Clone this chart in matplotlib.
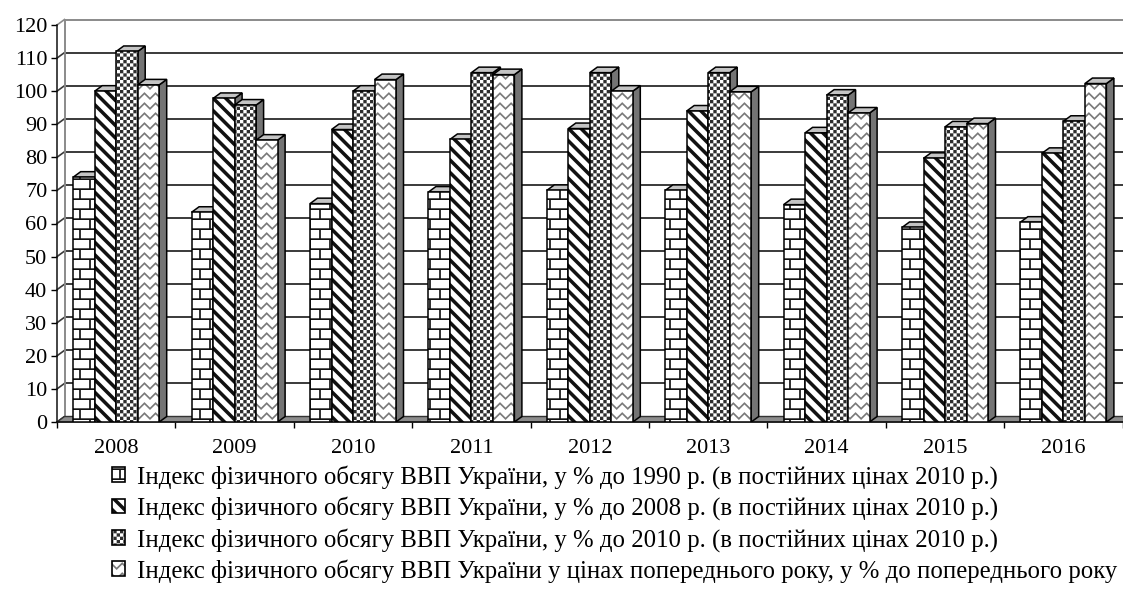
import numpy as np
import matplotlib
matplotlib.use("Agg")
import matplotlib.pyplot as plt
import matplotlib.hatch as mhatch
from matplotlib.path import Path
from matplotlib.patches import Polygon, Patch
from matplotlib.legend_handler import HandlerTuple

# ---------------- data ----------------
years = ['2008', '2009', '2010', '2011', '2012', '2013', '2014', '2015', '2016']
idx_1990 = [74.0, 63.4, 66.0, 69.5, 70.0, 70.0, 65.7, 58.8, 60.4]
idx_2008 = [100.0, 97.8, 88.4, 85.4, 88.7, 94.0, 87.4, 79.7, 81.2]
idx_2010 = [112.0, 95.8, 100.0, 105.6, 105.6, 105.6, 98.8, 89.2, 90.9]
idx_prev = [101.9, 85.2, 103.5, 105.0, 100.0, 99.8, 93.4, 90.2, 102.3]
series_labels = [
    'Індекс фізичного обсягу ВВП України, у % до 1990 р. (в постійних цінах 2010 р.)',
    'Індекс фізичного обсягу ВВП України, у % до 2008 р. (в постійних цінах 2010 р.)',
    'Індекс фізичного обсягу ВВП України, у % до 2010 р. (в постійних цінах 2010 р.)',
    'Індекс фізичного обсягу ВВП України у цінах попереднього року, у % до попереднього року',
]
y_ticks = list(range(0, 121, 10))

# ---------------- custom fill patterns ----------------
def _brick_polys():
    polys = []
    rows, cols, t = 10, 5, 0.017
    for j in range(rows):
        y0 = j / rows
        polys.append([(0, y0), (1, y0), (1, y0 + t), (0, y0 + t)])
        off = 0.5 / cols if j % 2 else 0.0
        for k in range(cols + 1):
            x0 = k / cols + off - t / 2
            polys.append([(x0, y0 + t), (x0 + t, y0 + t),
                          (x0 + t, y0 + 1 / rows), (x0, y0 + 1 / rows)])
    return polys


def _stripe_polys():
    n, w = 8, 0.05
    return [[(c, 0), (c + w, 0), (c + w - 1, 1), (c - 1, 1)]
            for c in np.arange(0, 2 * n + 1) / n]


def _checker_polys():
    n = 30
    s = 1.0 / n
    return [[(i * s, j * s), ((i + 1) * s, j * s), ((i + 1) * s, (j + 1) * s), (i * s, (j + 1) * s)]
            for i in range(n) for j in range(n) if (i + j) % 2 == 0]


def _zigzag_polys():
    rows, m, amp, t = 10, 18, 0.055, 0.024
    xs = np.arange(-1, m + 2) / m
    polys = []
    for j in range(rows):
        y0 = j / rows
        bottom = [(x, y0 + (amp if k % 2 else 0.0)) for k, x in enumerate(xs)]
        top = [(x, y + t) for x, y in bottom][::-1]
        polys.append(bottom + top)
    return polys


_POLYS = {'+': _brick_polys(), '\\': _stripe_polys(), 'x': _checker_polys(), 'o': _zigzag_polys()}


def _make_hatch(ch):
    class _PolyHatch(mhatch.HatchPatternBase):
        def __init__(self, hatch, density):
            self.polys = _POLYS[ch] if (hatch and ch in hatch) else []
            self.num_vertices = sum(len(p) + 1 for p in self.polys)

        def set_vertices_and_codes(self, vertices, codes):
            c = 0
            for p in self.polys:
                k = len(p)
                vertices[c:c + k] = p
                vertices[c + k] = p[0]
                codes[c] = Path.MOVETO
                codes[c + 1:c + k] = Path.LINETO
                codes[c + k] = Path.CLOSEPOLY
                c += k + 1
    return _PolyHatch


mhatch._hatch_types[:] = [_make_hatch(c) for c in ['+', '\\', 'x', 'o']]

plt.rcParams['hatch.linewidth'] = 0.0
plt.rcParams['font.family'] = ['Liberation Serif', 'DejaVu Serif']

# ---------------- figure ----------------
W, H = 1123, 597
fig = plt.figure(figsize=(W / 100, H / 100), dpi=100)
PX_X = 118.4
PX_Y = 397 / 120.0
ax = fig.add_axes([57 / W, (H - 422) / H, 9 * PX_X / W, 397 / H])
ax.set_xlim(0, 9)
ax.set_ylim(0, 120)

DX = 7.5 / PX_X
DY = 5.5 / PX_Y
BW = 21.5 / PX_X
LW = 1.1

# walls, grid and floor
for v in y_ticks:
    col = '#8a8a8a' if v == 120 else '#3a3a3a'
    ax.plot([DX, 9.3], [v + DY, v + DY], color=col, lw=1.4, clip_on=False, zorder=1)
    ax.plot([0, DX], [v, v + DY], color=col, lw=1.2, clip_on=False, zorder=1)
ax.plot([DX, DX], [DY, 120 + DY], color='#8a8a8a', lw=1.4, clip_on=False, zorder=1)
ax.add_patch(Polygon([(0, 0), (9.3, 0), (9.3 + DX, DY), (DX, DY)], closed=True,
                     facecolor='#8c8c8c', edgecolor='#333333', lw=1.0,
                     clip_on=False, zorder=1.5))

values = [idx_1990, idx_2008, idx_2010, idx_prev]
hatches = ['+', '\\', 'x', 'o']
hcolors = ['#111111', '#111111', '#2e2e2e', '#7a7a7a']
nser = len(values)

for s, (vals, h, hc) in enumerate(zip(values, hatches, hcolors)):
    lefts = np.arange(len(years)) + 0.5 - nser / 2 * BW + s * BW
    fronts = ax.bar(lefts, vals, width=BW, align='edge', color='white',
                    edgecolor=hc, linewidth=0, hatch=h)
    outl = ax.bar(lefts, vals, width=BW, align='edge', fill=False,
                  edgecolor='black', linewidth=LW)
    for i, (rf, ro) in enumerate(zip(fronts, outl)):
        x0 = rf.get_x()
        top = rf.get_height()
        k = i * nser + s
        z = 3 + k * 0.01
        side = Polygon([(x0 + BW, 0), (x0 + BW + DX, DY), (x0 + BW + DX, top + DY), (x0 + BW, top)],
                       closed=True, facecolor='#747474', edgecolor='black', lw=LW, zorder=z)
        topf = Polygon([(x0, top), (x0 + BW, top), (x0 + BW + DX, top + DY), (x0 + DX, top + DY)],
                       closed=True, facecolor='#c4c4c4', edgecolor='black', lw=LW, zorder=z + 0.002)
        ax.add_patch(side)
        ax.add_patch(topf)
        rf.set_zorder(z + 0.004)
        ro.set_zorder(z + 0.006)

# axes styling
for sp in ['top', 'right']:
    ax.spines[sp].set_visible(False)
for sp in ['left', 'bottom']:
    ax.spines[sp].set_linewidth(1.1)
    ax.spines[sp].set_color('#111111')
    ax.spines[sp].set_zorder(2)

ax.set_yticks(y_ticks)
ax.tick_params(axis='y', length=4.5, width=1.0, pad=2.5, labelsize=16, direction='out')
ax.set_xticks(np.arange(0, len(years) + 1))
ax.set_xticklabels([])
ax.set_xticks(np.arange(len(years)) + 0.5, minor=True)
ax.set_xticklabels(years, minor=True)
ax.tick_params(axis='x', which='major', length=4.5, width=1.0, direction='out')
ax.tick_params(axis='x', which='minor', length=0, pad=12, labelsize=16)

# legend
handles = [(Patch(facecolor='white', edgecolor=hc, hatch=h, linewidth=0),
            Patch(facecolor='none', edgecolor='black', linewidth=1.2))
           for h, hc in zip(hatches, hcolors)]
fig.legend(handles, series_labels, handler_map={tuple: HandlerTuple(ndivide=1, pad=0)},
           loc='upper left', bbox_to_anchor=(112 / W, 1 - 465 / H), frameon=False,
           fontsize=17.8, handlelength=0.53, handleheight=0.53, handletextpad=0.49,
           labelspacing=0.30, borderpad=0, borderaxespad=0)

fig.savefig('out.png', dpi=100)
